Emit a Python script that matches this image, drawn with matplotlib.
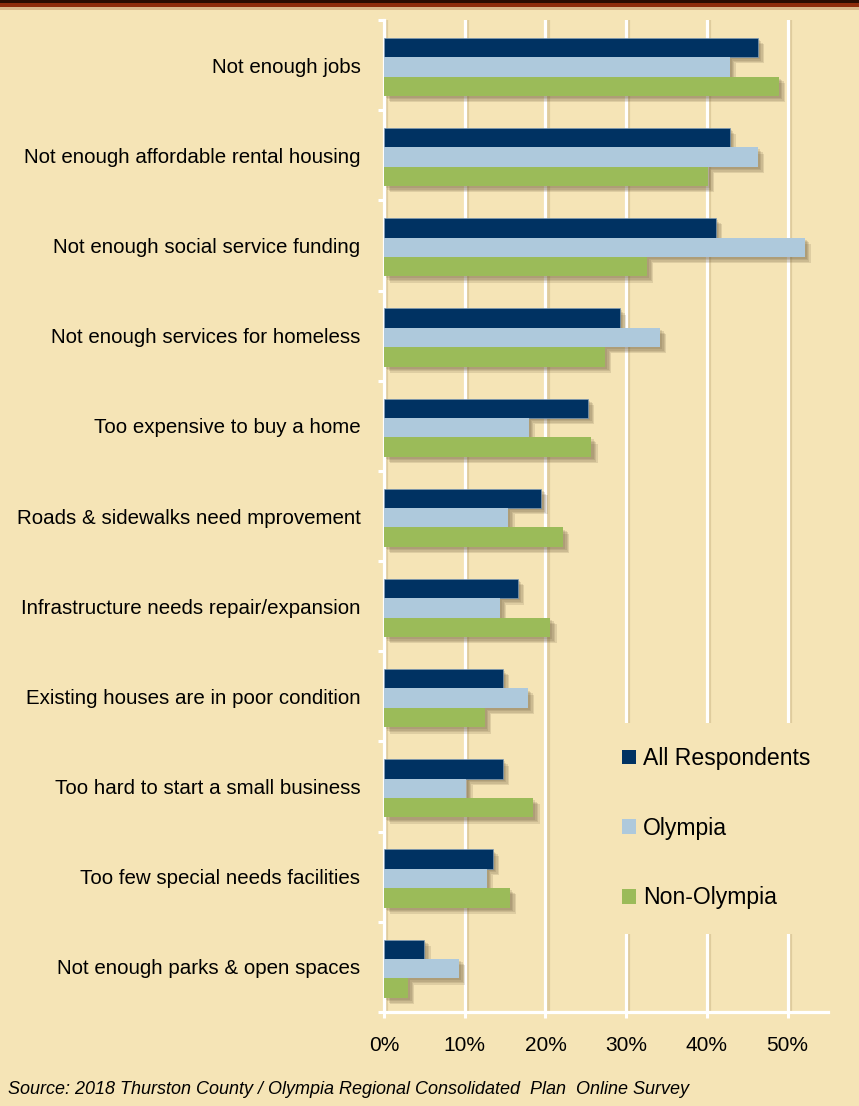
import matplotlib
matplotlib.use('Agg')
import matplotlib.pyplot as plt
import matplotlib.patheffects as pe
from matplotlib.patches import Patch, Rectangle
import numpy as np

plt.rcParams['font.family'] = ['Liberation Sans', 'DejaVu Sans']

categories = ['Not enough jobs',
              'Not enough affordable rental housing',
              'Not enough social service funding',
              'Not enough services for homeless',
              'Too expensive to buy a home',
              'Roads & sidewalks need mprovement',
              'Infrastructure needs repair/expansion',
              'Existing houses are in poor condition',
              'Too hard to start a small business',
              'Too few special needs facilities',
              'Not enough parks & open spaces']
all_resp = [46.3, 42.8, 41.1, 29.2, 25.3, 19.5, 16.6, 14.7, 14.7, 13.5, 5.0]
olympia = [42.8, 46.3, 52.1, 34.2, 17.9, 15.4, 14.4, 17.8, 10.2, 12.7, 9.3]
non_olympia = [48.9, 40.1, 32.6, 27.4, 25.7, 22.2, 20.6, 12.5, 18.5, 15.6, 3.0]
series_names = ['All Respondents', 'Olympia', 'Non-Olympia']
xticks = [0, 10, 20, 30, 40, 50]

bg = '#F5E4B6'
colors = ['#003262', '#AEC9DC', '#9BBB59']

fig = plt.figure(figsize=(8.59, 11.06), dpi=100, facecolor=bg)
ax = fig.add_axes([384/859, 1-1012/1106, 444/859, 992/1106])
ax.set_facecolor(bg)

# top border
fig.patches.append(Rectangle((0, 1-10/1106), 1, 3/1106, transform=fig.transFigure,
                             facecolor='#d9b98c', edgecolor='none', zorder=4))
fig.patches.append(Rectangle((0, 1-7/1106), 1, 7/1106, transform=fig.transFigure,
                             facecolor='#8E2C0C', edgecolor='none', zorder=5))
fig.patches.append(Rectangle((0, 1-3/1106), 1, 3/1106, transform=fig.transFigure,
                             facecolor='#2a0c02', edgecolor='none', zorder=6))

y = np.arange(len(categories))
h = 0.215
# soft-ish shadow by stacking a few offsets
shadow = [pe.SimplePatchShadow(offset=(o, -o), shadow_rgbFace='#6b5a3a', alpha=0.16)
          for o in (4.5, 3.5, 2.5, 1.5)] + [pe.Normal()]
for k, vals in enumerate([all_resp, olympia, non_olympia]):
    ax.barh(y + (k - 1) * h + 0.02, vals, height=h, color=colors[k], zorder=3,
            edgecolor='#7f9bb5' if k == 0 else 'none', linewidth=0.5,
            path_effects=shadow)

ax.set_xlim(0, 55)
ax.set_ylim(len(categories) - 0.5, -0.5)

# gridlines
ax.set_xticks(xticks)
ax.set_xticklabels([f'{v}%' for v in xticks])
ax.grid(axis='x', color='white', linewidth=2.3, zorder=1,
        path_effects=[pe.SimpleLineShadow(offset=(1.5, 0), shadow_color='#b8a070', alpha=0.35), pe.Normal()])
ax.grid(axis='y', visible=False)

ax.set_yticks(y)
ax.set_yticklabels(categories)
ax.set_yticks(np.arange(-0.5, len(categories) + 0.5, 1), minor=True)
ax.tick_params(axis='y', which='major', length=0, pad=17, labelsize=14.8)
ax.tick_params(axis='y', which='minor', length=4.5, width=2.2, color='white', direction='out')
ax.tick_params(axis='x', length=4.5, width=2.2, color='white', pad=13, labelsize=15)

for s in ['top', 'right']:
    ax.spines[s].set_visible(False)
for s in ['left', 'bottom']:
    ax.spines[s].set_color('white')
    ax.spines[s].set_linewidth(2.3)

handles = [Patch(facecolor=c, edgecolor='none') for c in colors]
leg = ax.legend(handles, series_names, loc='upper left',
                bbox_to_anchor=(598/859, 1-723/1106), bbox_transform=fig.transFigure,
                fontsize=16.6, frameon=True, facecolor=bg, edgecolor='none', framealpha=1,
                borderpad=1.05, labelspacing=2.02, handlelength=0.6, handleheight=0.6,
                handletextpad=0.3, borderaxespad=0)
leg.set_zorder(10)
leg.get_frame().set_boxstyle('square', pad=0)

fig.text(8/859, 1-1090/1106,
         'Source: 2018 Thurston County / Olympia Regional Consolidated  Plan  Online Survey',
         fontsize=13, style='italic', va='center', ha='left')

fig.savefig('out.png', dpi=100, facecolor=bg)
